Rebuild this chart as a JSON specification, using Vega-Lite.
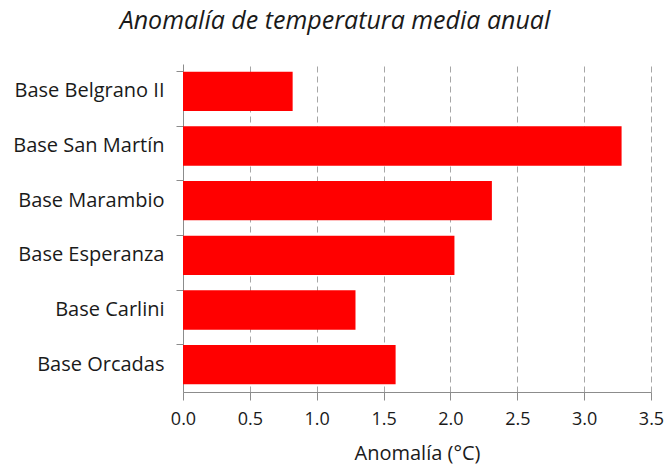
{
  "$schema": "https://vega.github.io/schema/vega-lite/v6.json",
  "autosize": "none",
  "padding": {"left": 183, "top": 64, "right": 13, "bottom": 78},
  "width": 468,
  "height": 328,
  "background": "white",
  "title": {
    "text": "Anomalía de temperatura media anual",
    "font": "Open Sans",
    "fontSize": 25,
    "fontStyle": "italic",
    "fontWeight": "normal",
    "color": "#1a1a1a",
    "anchor": "middle",
    "frame": "group",
    "dx": -82,
    "offset": 30
  },
  "data": {
    "values": [
      {"base": "Base Belgrano II", "anomalia": 0.82},
      {"base": "Base San Martín", "anomalia": 3.28},
      {"base": "Base Marambio", "anomalia": 2.31},
      {"base": "Base Esperanza", "anomalia": 2.03},
      {"base": "Base Carlini", "anomalia": 1.29},
      {"base": "Base Orcadas", "anomalia": 1.59}
    ]
  },
  "mark": {"type": "bar", "color": "#FF0000"},
  "encoding": {
    "y": {
      "field": "base",
      "type": "nominal",
      "sort": null,
      "scale": {"paddingInner": 0.28, "paddingOuter": 0.14},
      "axis": {
        "title": null,
        "bandPosition": 0,
        "labelFont": "Open Sans",
        "labelFontSize": 20,
        "labelColor": "#1a1a1a",
        "labelPadding": 12,
        "tickSize": 7,
        "tickColor": "#8c8c8c",
        "domainColor": "#8c8c8c",
        "grid": false
      }
    },
    "x": {
      "field": "anomalia",
      "type": "quantitative",
      "scale": {"domain": [0, 3.5], "nice": false},
      "axis": {
        "title": "Anomalía (°C)",
        "titleFont": "Open Sans",
        "titleFontSize": 20,
        "titleFontWeight": "normal",
        "titleColor": "#1a1a1a",
        "titlePadding": 15,
        "values": [0, 0.5, 1, 1.5, 2, 2.5, 3, 3.5],
        "format": ".1f",
        "labelFont": "Open Sans",
        "labelFontSize": 18,
        "labelColor": "#1a1a1a",
        "labelPadding": 10,
        "labelFlush": false,
        "tickSize": 8,
        "tickColor": "#8c8c8c",
        "domainColor": "#8c8c8c",
        "grid": true,
        "gridColor": "#a6a6a6",
        "gridDash": [6, 4],
        "gridWidth": 1
      }
    }
  },
  "config": {"view": {"stroke": null}}
}
